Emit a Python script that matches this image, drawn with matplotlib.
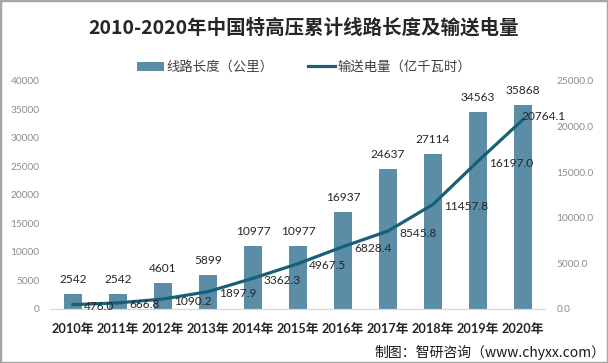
import matplotlib.pyplot as plt
from matplotlib.patches import Rectangle

years = ["2010年", "2011年", "2012年", "2013年", "2014年", "2015年",
         "2016年", "2017年", "2018年", "2019年", "2020年"]
line_length = [2542, 2542, 4601, 5899, 10977, 10977, 16937, 24637, 27114, 34563, 35868]
power = [476.0, 666.8, 1090.2, 1897.9, 3362.3, 4967.5, 6828.4, 8545.8, 11457.8, 16197.0, 20764.1]

FONT = ["Lato", "Noto Sans CJK SC", "DejaVu Sans"]
CJK = ["Noto Sans CJK SC", "DejaVu Sans"]
plt.rcParams["font.family"] = FONT

bar_color = "#5b8da6"
line_color = "#1a5f78"
tick_gray = "#8c8c8c"

fig = plt.figure(figsize=(6.08, 3.63), dpi=100)
ax = fig.add_axes([0.083, 0.1488, 0.814, 0.6281])
ax2 = ax.twinx()

x = list(range(len(years)))
bars = ax.bar(x, line_length, width=0.4, color=bar_color, zorder=2, label="线路长度（公里）")
ln, = ax2.plot(x, power, color=line_color, lw=2.3, zorder=3, label="输送电量（亿千瓦时）")

ax.set_xlim(-0.5, 10.5)
ax.set_ylim(0, 40000)
ax.set_yticks(range(0, 40001, 5000))
ax2.set_ylim(0, 25000)
ax2.set_yticks(range(0, 25001, 5000))
ax2.set_yticklabels([f"{v:.1f}" for v in range(0, 25001, 5000)])

ax.set_xticks(x)
ax.set_xticklabels(years, fontsize=9.2, fontweight="bold", color="#262626")
ax.tick_params(axis="x", length=0, pad=10)
ax.tick_params(axis="y", length=0, pad=8, labelsize=7.3, labelcolor=tick_gray)
ax2.tick_params(axis="y", length=0, pad=8, labelsize=7.3, labelcolor=tick_gray)

for a in (ax, ax2):
    for s in ("top", "left", "right"):
        a.spines[s].set_visible(False)
    a.spines["bottom"].set_color("#d9d9d9")

# bar labels
for xi, v in zip(x, line_length):
    ax.annotate(f"{v}", (xi, v), xytext=(0, 9), textcoords="offset pixels",
                ha="center", va="bottom", fontsize=8.6, color="#262626")

# line labels, last one sits right on the point
for xi, v in zip(x, power):
    dx, dy = (11, -2) if xi < len(x) - 1 else (-1, 3)
    ax2.annotate(f"{v:.1f}", (xi, v), xytext=(dx, dy), textcoords="offset pixels",
                 ha="left", va="center", fontsize=8.6, color="#262626", zorder=5)

fig.text(0.5, 0.922, "2010-2020年中国特高压累计线路长度及输送电量", ha="center", va="center",
         fontsize=14, fontweight="bold", color="#262626", family=CJK)

fig.legend(handles=[bars, ln], loc="center", bbox_to_anchor=(0.5, 0.815), ncol=2,
           frameon=False, handlelength=2.0, columnspacing=2.6, handletextpad=0.2,
           prop={"family": CJK, "size": 9.6}, labelcolor="#404040")

fig.text(0.995, 0.03, "制图：智研咨询（www.chyxx.com）", ha="right", va="center",
         fontsize=10, color="#1a1a1a", family=CJK)

fig.patches.append(Rectangle((0, 0), 1, 1, transform=fig.transFigure, fill=False,
                             edgecolor="#a6a6a6", lw=2.5))

fig.savefig("out.png", dpi=100, facecolor="white")
